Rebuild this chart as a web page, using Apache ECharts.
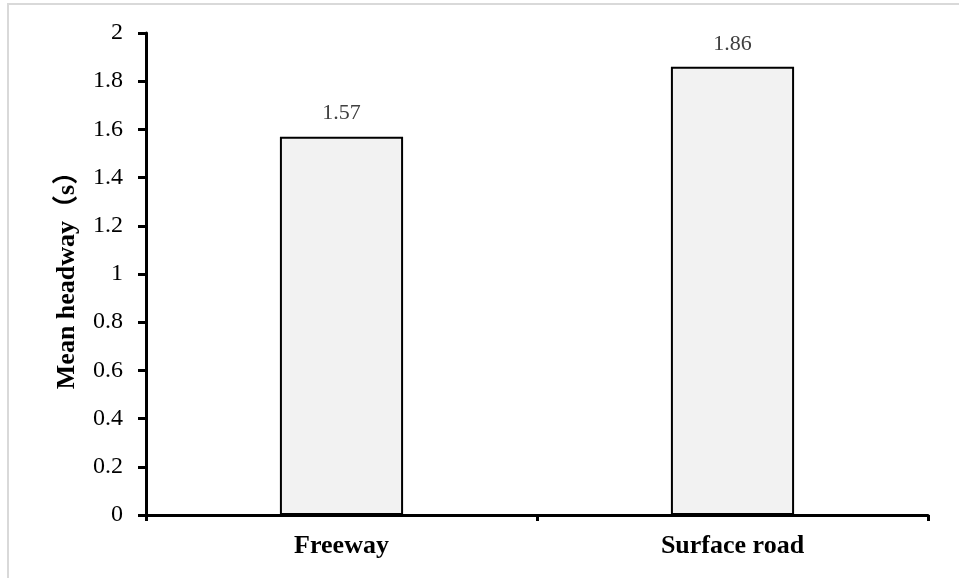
<!DOCTYPE html>
<html>
<head>
<meta charset="utf-8">
<script src="https://cdn.jsdelivr.net/npm/echarts@6/dist/echarts.min.js"></script>
<style>html,body{margin:0;padding:0;background:#fff;}#c{width:959px;height:578px;}</style>
</head>
<body>
<div id="c"></div>
<script>
const categories = ['Freeway', 'Surface road'];
const meanHeadway = [1.57, 1.86];
const yTicks = [0, 0.2, 0.4, 0.6, 0.8, 1, 1.2, 1.4, 1.6, 1.8, 2];

const FONT = "'Times New Roman', 'Liberation Serif', 'Noto Sans CJK SC', serif";
const chart = echarts.init(document.getElementById('c'), null, {renderer: 'canvas'});
chart.setOption({
  animation: false,
  backgroundColor: '#fff',
  graphic: [{
    type: 'rect', silent: true,
    shape: {x: 8, y: 4, width: 1000, height: 1000},
    style: {fill: 'none', stroke: '#d9d9d9', lineWidth: 2}
  }],
  grid: {left: 146, right: 31, top: 33, bottom: 63},
  xAxis: {
    type: 'category',
    data: categories,
    axisLine: {lineStyle: {color: '#000', width: 3}},
    axisTick: {show: true, length: 6, lineStyle: {color: '#000', width: 3}},
    axisLabel: {color: '#000', fontFamily: FONT, fontSize: 26, fontWeight: 'bold', margin: 18}
  },
  yAxis: {
    type: 'value',
    min: yTicks[0], max: yTicks[yTicks.length - 1], interval: 0.2,
    name: 'Mean headway（s）',
    nameLocation: 'middle',
    nameGap: 66,
    nameTextStyle: {color: '#000', fontFamily: FONT, fontSize: 26, fontWeight: 'bold'},
    axisLine: {show: true, lineStyle: {color: '#000', width: 3}},
    axisTick: {show: true, length: 8, lineStyle: {color: '#000', width: 3}},
    splitLine: {show: false},
    axisLabel: {color: '#000', fontFamily: FONT, fontSize: 24, margin: 23,
      formatter: v => String(Math.round(v * 10) / 10)}
  },
  series: [{
    type: 'bar',
    data: meanHeadway,
    barWidth: '31.5%',
    itemStyle: {color: '#f2f2f2', borderColor: '#000', borderWidth: 2},
    label: {show: true, position: 'top', distance: 12, color: '#404040',
      fontFamily: FONT, fontSize: 22}
  }]
});
</script>
</body>
</html>
